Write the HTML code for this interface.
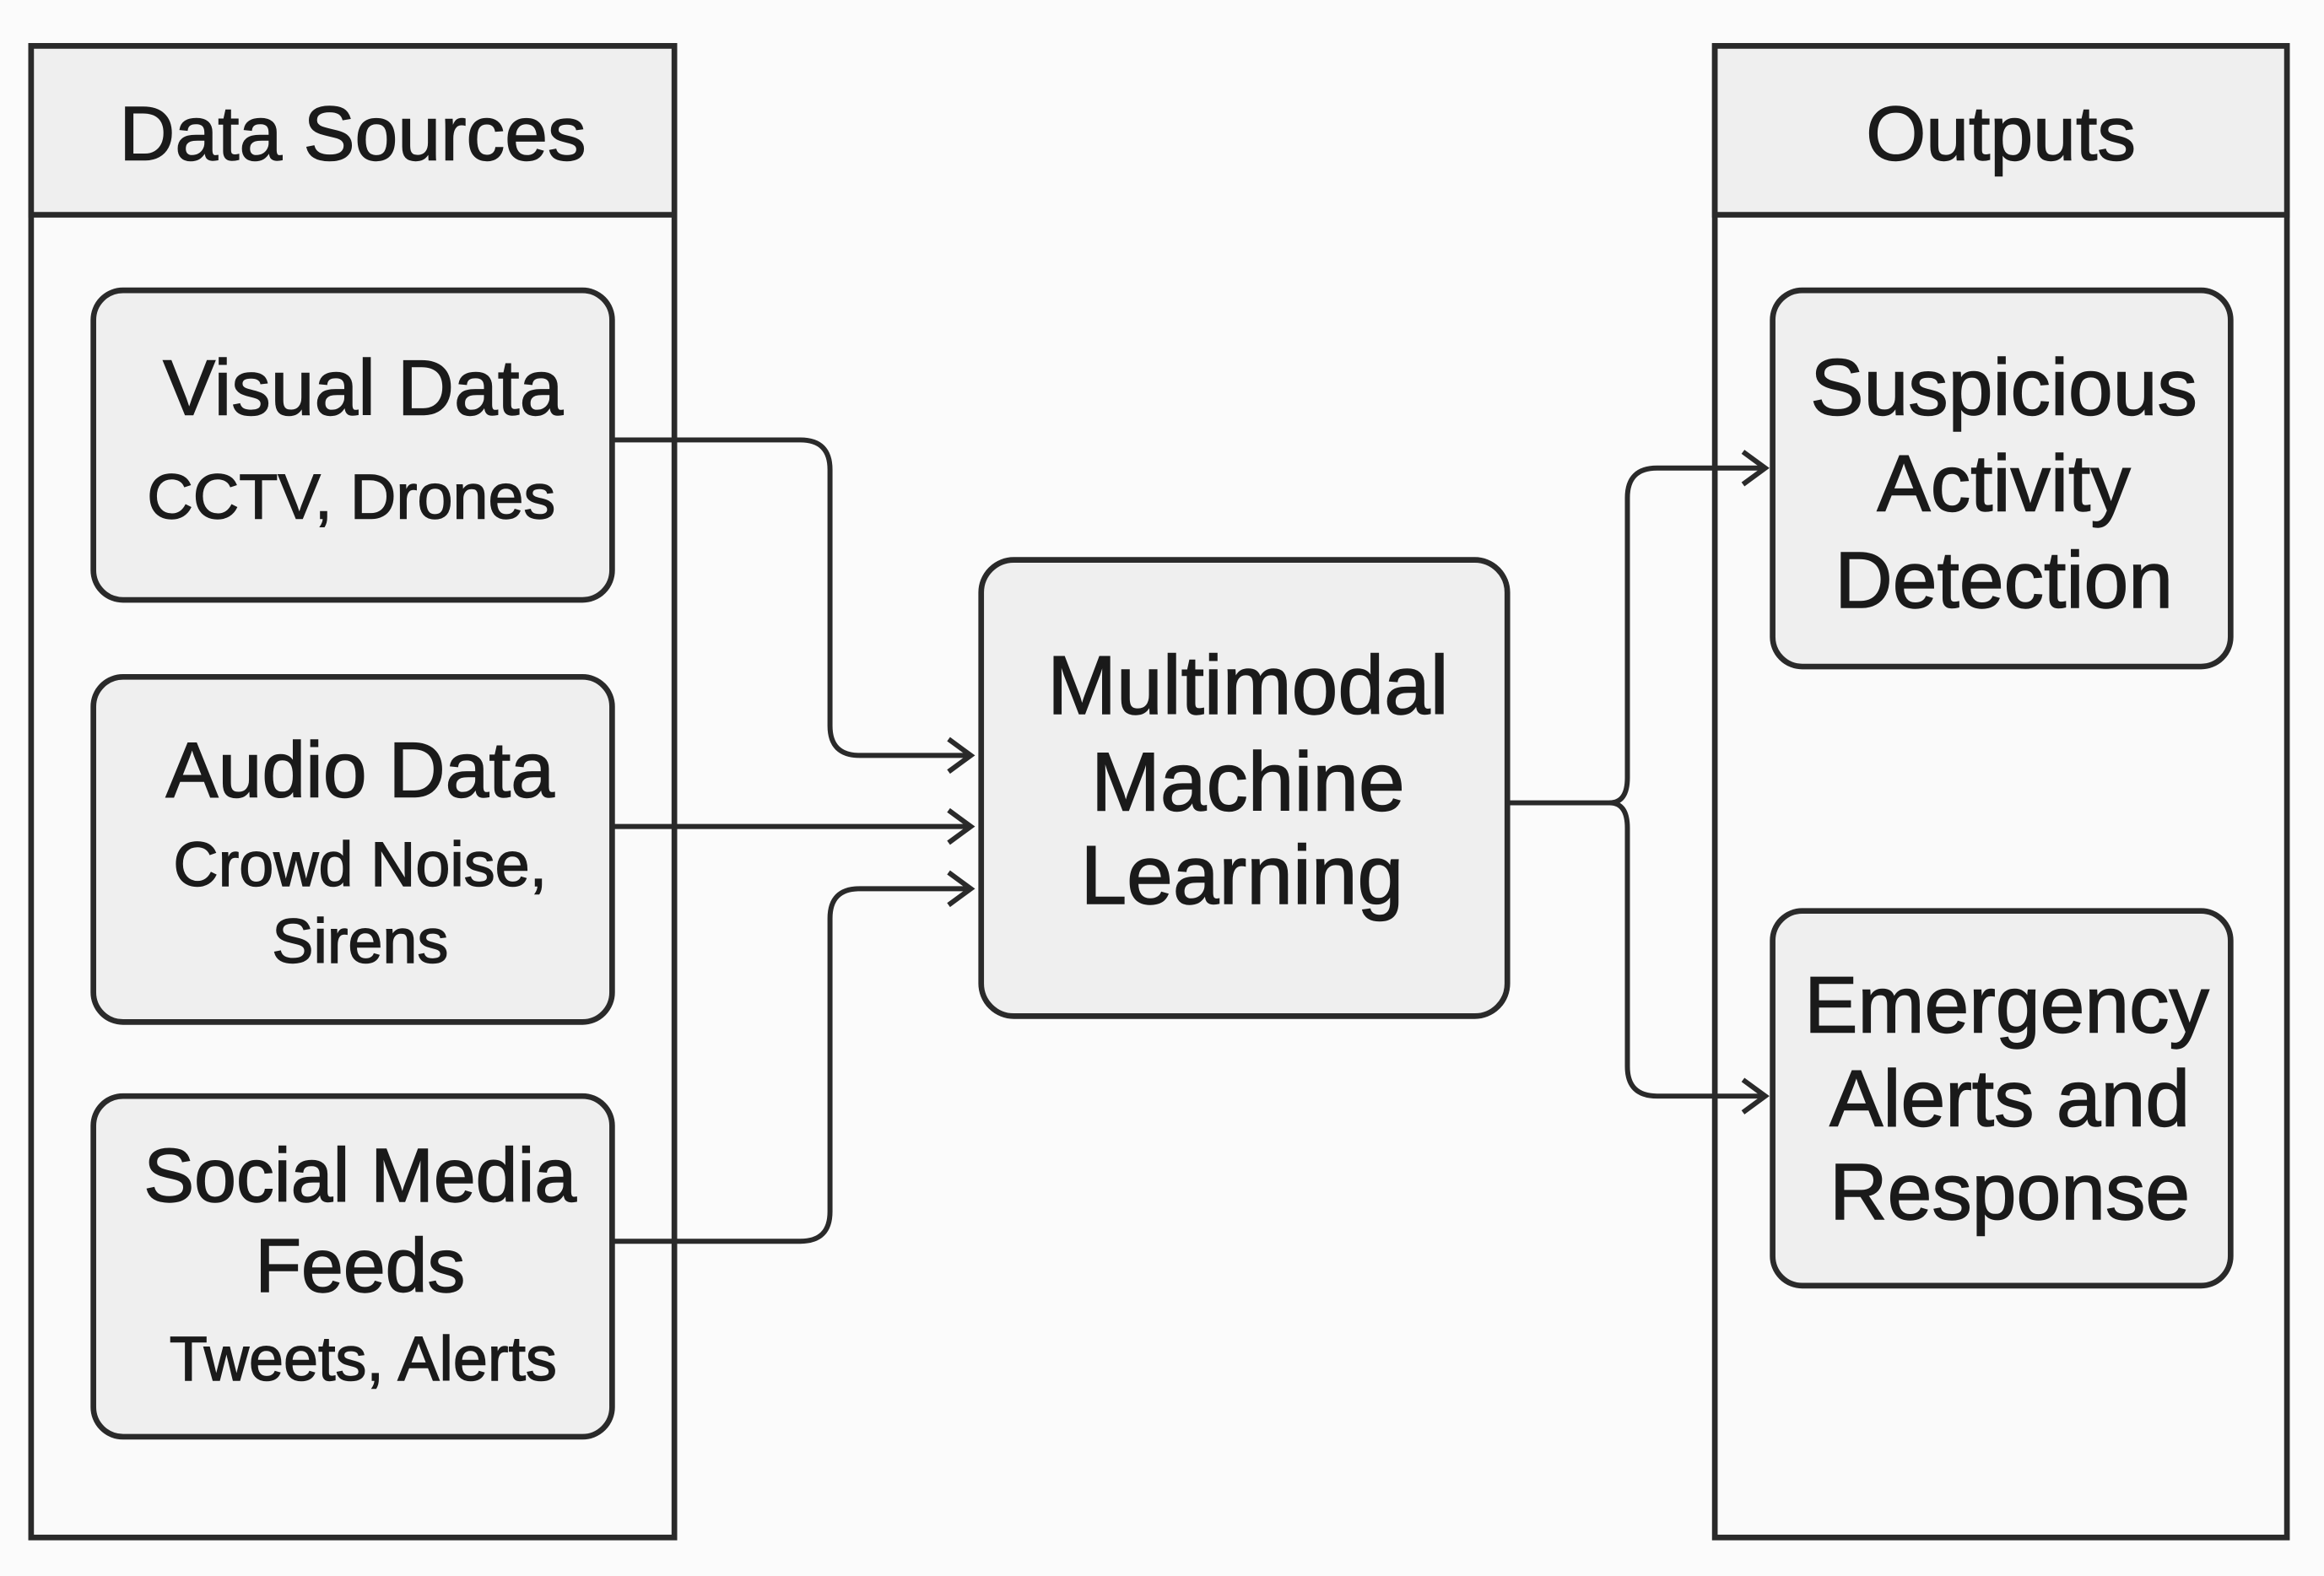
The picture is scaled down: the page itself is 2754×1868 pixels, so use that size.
<!DOCTYPE html>
<html><head><meta charset="utf-8"><style>
html,body{margin:0;padding:0;background:#fbfbfb;}
svg{display:block}
text{font-family:"Liberation Sans",sans-serif;fill:#1a1a1a;text-anchor:middle;stroke:#1a1a1a;stroke-width:0.8}
</style></head><body>
<svg width="2754" height="1868" viewBox="0 0 1568 1064" preserveAspectRatio="none" xmlns="http://www.w3.org/2000/svg">
<rect width="1568" height="1064" fill="#fbfbfb"/>
<g stroke="#2a2a2a" stroke-width="3.8">
<rect x="21" y="31" width="434" height="1007" fill="#fafafa"/>
<rect x="21" y="31" width="434" height="114" fill="#efefef"/>
<rect x="1157" y="31" width="386" height="1007" fill="#fafafa"/>
<rect x="1157" y="31" width="386" height="114" fill="#efefef"/>
<rect x="63" y="196" width="350" height="209" rx="20" fill="#efefef"/>
<rect x="63" y="457" width="350" height="233" rx="20" fill="#efefef"/>
<rect x="63" y="740" width="350" height="230" rx="20" fill="#efefef"/>
<rect x="662" y="378" width="355" height="308" rx="22" fill="#efefef"/>
<rect x="1196" y="196" width="309" height="254" rx="20" fill="#efefef"/>
<rect x="1196" y="615" width="309" height="253" rx="20" fill="#efefef"/>
</g>
<g stroke="#2a2a2a" stroke-width="3.4" fill="none">
<path d="M413 297 H540 Q560 297 560 317 V490 Q560 510 580 510 H655"/>
<path d="M413 558 H655"/>
<path d="M413 838 H540 Q560 838 560 818 V620 Q560 600 580 600 H655"/>
<path d="M1017 542 H1086 Q1098 542 1098 525 V336 Q1098 316 1118 316 H1190"/>
<path d="M1086 542 Q1098 542 1098 559 V720 Q1098 740 1118 740 H1190"/>
<path d="M640 499 L655 510 L640 521"/>
<path d="M640 547 L655 558 L640 569"/>
<path d="M640 589 L655 600 L640 611"/>
<path d="M1176 305 L1191 316 L1176 327"/>
<path d="M1176 729 L1191 740 L1176 751"/>
</g>
<text x="238" y="108" font-size="52">Data Sources</text>
<text x="1350" y="108" font-size="52">Outputs</text>
<text x="245" y="280" font-size="53">Visual Data</text>
<text x="237" y="350" font-size="43">CCTV, Drones</text>
<text x="243" y="538" font-size="53">Audio Data</text>
<text x="243" y="598" font-size="42">Crowd Noise,</text>
<text x="243" y="650" font-size="42">Sirens</text>
<text x="243" y="811" font-size="51">Social Media</text>
<text x="243" y="872" font-size="51">Feeds</text>
<text x="245" y="932" font-size="42">Tweets, Alerts</text>
<text x="842" y="482" font-size="56">Multimodal</text>
<text x="842" y="547" font-size="56">Machine</text>
<text x="838" y="610" font-size="56">Learning</text>
<text x="1352" y="280" font-size="54">Suspicious</text>
<text x="1352" y="345" font-size="54">Activity</text>
<text x="1352" y="410" font-size="54">Detection</text>
<text x="1354" y="697" font-size="54">Emergency</text>
<text x="1356" y="760" font-size="54">Alerts and</text>
<text x="1356" y="823" font-size="54">Response</text>
</svg>
</body></html>
